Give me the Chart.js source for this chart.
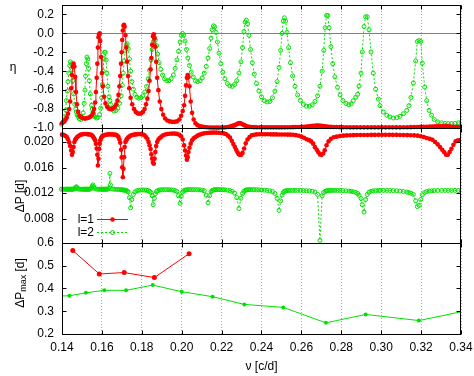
<!DOCTYPE html>
<html>
<head>
<meta charset="utf-8">
<script src="https://cdn.jsdelivr.net/npm/chart.js@4.4.0/dist/chart.umd.min.js"></script>
<style>
html, body { margin: 0; padding: 0; background: #fff; }
#wrap { position: relative; width: 474px; height: 376px; overflow: hidden; }
canvas { position: absolute; left: 0; }
</style>
</head>
<body>
<div id="wrap">
<canvas id="cMax" width="474" height="139" style="top:237px"></canvas>
<canvas id="cDp" width="474" height="128" style="top:122px"></canvas>
<canvas id="cEta" width="474" height="134" style="top:0px"></canvas>
</div>
<script>
// l=1 modes: frequency, eta, period spacing
const nu1 = [
.1400,.1406,.1412,.1418,.1424,.1430,.1436,.1441,.1446,.1450,
.1454,.1458,.1462,.1466,.1470,.1475,.1481,.1488,.1495,.1503,
.1511,.1519,.1527,.1535,.1543,.1550,.1556,.1561,.1566,.1570,
.1574,.1577,.1580,.1583,.1586,.1589,.1592,.1596,.1600,.1605,
.1611,.1618,.1626,.1634,.1642,.1650,.1658,.1665,.1672,.1678,
.1683,.1688,.1692,.1696,.1699,.1702,.1705,.1708,.1711,.1714,
.1718,.1722,.1726,.1731,.1737,.1744,.1752,.1761,.1770,.1779,
.1788,.1797,.1806,.1814,.1821,.1828,.1834,.1839,.1844,.1848,
.1852,.1856,.1860,.1864,.1868,.1872,.1877,.1883,.1890,.1898,
.1907,.1917,.1928,.1940,.1952,.1964,.1976,.1988,.1997,.2005,
.2012,.2017,.2022,.2026,.2030,.2034,.2039,.2045,.2052,.2060,
.2069,.2079,.2090,.2102,.2114,.2126,.2138,.2150,.2162,.2174,
.2186,.2198,.2210,.2221,.2232,.2242,.2251,.2259,.2266,.2273,
.2280,.2286,.2292,.2298,.2305,.2313,.2321,.2330,.2340,.2351,
.2363,.2376,.2390,.2404,.2418,.2432,.2446,.2460,.2474,.2488,
.2502,.2516,.2530,.2544,.2558,.2572,.2586,.2600,.2613,.2626,
.2638,.2649,.2659,.2668,.2677,.2685,.2693,.2701,.2709,.2717,
.2726,.2736,.2748,.2762,.2777,.2793,.2810,.2827,.2844,.2861,
.2878,.2896,.2914,.2932,.2950,.2968,.2986,.3004,.3022,.3040,
.3058,.3076,.3094,.3112,.3130,.3148,.3165,.3182,.3198,.3213,
.3228,.3243,.3257,.3270,.3283,.3295,.3306,.3316,.3325,.3334,
.3343,.3352,.3362,.3373,.3385,.3398,.3412];
const eta1 = [
-.95,-.94,-.93,-.91,-.89,-.85,-.80,-.72,-.58,-.44,
-.35,-.32,-.35,-.46,-.62,-.75,-.83,-.87,-.885,-.895,
-.90,-.90,-.895,-.89,-.88,-.865,-.84,-.80,-.73,-.62,
-.47,-.32,-.15,-.04,-.01,0,-.08,-.25,-.42,-.56,
-.67,-.74,-.775,-.795,-.80,-.80,-.79,-.775,-.75,-.71,
-.65,-.56,-.45,-.32,-.20,-.07,.03,.08,.09,.07,
-.02,-.15,-.30,-.45,-.58,-.68,-.75,-.80,-.83,-.845,
-.85,-.845,-.83,-.80,-.75,-.69,-.61,-.50,-.38,-.26,
-.12,-.03,-.01,-.05,-.14,-.30,-.47,-.60,-.72,-.80,
-.86,-.90,-.92,-.93,-.935,-.935,-.93,-.91,-.87,-.82,
-.76,-.66,-.55,-.47,-.44,-.46,-.56,-.72,-.84,-.91,
-.95,-.97,-.98,-.985,-.99,-.992,-.994,-.995,-.996,-.996,
-.996,-.995,-.994,-.992,-.989,-.985,-.980,-.975,-.970,-.963,
-.956,-.950,-.948,-.952,-.960,-.970,-.978,-.984,-.988,-.990,
-.991,-.992,-.992,-.993,-.993,-.993,-.993,-.993,-.993,-.993,
-.993,-.993,-.992,-.992,-.991,-.990,-.989,-.988,-.986,-.984,
-.982,-.980,-.978,-.976,-.975,-.975,-.976,-.978,-.980,-.982,
-.984,-.986,-.988,-.989,-.990,-.991,-.992,-.992,-.993,-.993,
-.993,-.993,-.993,-.993,-.993,-.993,-.993,-.993,-.993,-.993,
-.993,-.993,-.993,-.992,-.992,-.991,-.990,-.989,-.988,-.987,
-.986,-.985,-.984,-.983,-.982,-.981,-.981,-.981,-.982,-.983,
-.984,-.986,-.987,-.988,-.989,-.990,-.991];
const dp1 = [
.02116,.02114,.02106,.02095,.02079,.02042,.01995,.01937,.01869,.01801,
.01843,.01921,.02000,.02035,.02053,.02075,.02090,.02105,.02116,.02122,
.02126,.02126,.02124,.02120,.02116,.02105,.02085,.02060,.02027,.01975,
.01900,.01800,.01633,.01738,.01896,.01975,.02027,.02063,.02085,.02100,
.02106,.02112,.02118,.02121,.02121,.02120,.02118,.02116,.02110,.02098,
.02079,.02040,.01990,.01880,.01760,.01606,.01449,.01581,.01764,.01921,
.02000,.02027,.02050,.02070,.02085,.02100,.02110,.02116,.02120,.02124,
.02126,.02124,.02118,.02106,.02080,.02050,.02000,.01950,.01890,.01810,
.01740,.01680,.01660,.01738,.01843,.01937,.02000,.02040,.02063,.02085,
.02106,.02118,.02126,.02130,.02132,.02132,.02128,.02115,.02090,.02040,
.01948,.01869,.01790,.01723,.01764,.01843,.01911,.01975,.02027,.02060,
.02080,.02100,.02116,.02128,.02137,.02142,.02145,.02147,.02148,.02148,
.02146,.02142,.02136,.02125,.02100,.02070,.02020,.01970,.01925,.01880,
.01840,.01810,.01800,.01800,.01830,.01900,.01980,.02040,.02080,.02105,
.02115,.02120,.02122,.02122,.02122,.02122,.02121,.02120,.02120,.02119,
.02118,.02118,.02117,.02116,.02114,.02108,.02098,.02085,.02068,.02045,
.02030,.02010,.01975,.01920,.01880,.01840,.01805,.01800,.01820,.01870,
.01950,.02010,.02050,.02075,.02085,.02095,.02100,.02104,.02106,.02108,
.02110,.02110,.02111,.02111,.02112,.02112,.02113,.02113,.02113,.02113,
.02112,.02112,.02111,.02110,.02109,.02107,.02105,.02100,.02092,.02080,
.02063,.02050,.02035,.02000,.01964,.01921,.01880,.01840,.01801,.01801,
.01843,.01896,.01959,.02011,.02027,.02030,.02035];

// l=2 modes
const nu2 = [
.1397,.1405,.1413,.1419,.1422,.1427,.1430,.1434,.1439,.1442,
.1447,.1450,.1454,.1459,.1464,.1469,.1472,.1476,.1480,.1487,
.1495,.1501,.1506,.1511,.1515,.1518,.1522,.1525,.1529,.1533,
.1537,.1542,.1548,.1552,.1555,.1559,.1563,.1572,.1580,.1588,
.1594,.1599,.1603,.1606,.1610,.1613,.1617,.1621,.1625,.1630,
.1636,.1640,.1643,.1651,.1660,.1670,.1680,.1689,.1696,.1702,
.1707,.1712,.1717,.1722,.1727,.1732,.1738,.1744,.1750,.1758,
.1766,.1775,.1785,.1795,.1805,.1815,.1824,.1832,.1839,.1846,
.1852,.1857,.1863,.1868,.1874,.1880,.1887,.1895,.1904,.1914,
.1925,.1936,.1947,.1958,.1967,.1976,.1984,.1992,.1998,.2004,
.2010,.2017,.2024,.2031,.2039,.2048,.2058,.2069,.2080,.2092,
.2103,.2113,.2123,.2132,.2140,.2147,.2153,.2159,.2165,.2172,
.2179,.2187,.2196,.2206,.2217,.2229,.2241,.2253,.2265,.2276,
.2287,.2297,.2305,.2312,.2318,.2324,.2330,.2337,.2345,.2354,
.2364,.2375,.2387,.2400,.2414,.2428,.2442,.2455,.2467,.2478,
.2488,.2496,.2503,.2509,.2515,.2521,.2528,.2536,.2545,.2556,
.2568,.2581,.2595,.2610,.2625,.2640,.2654,.2668,.2681,.2693,
.2704,.2712,.2719,.2726,.2732,.2739,.2748,.2757,.2768,.2781,
.2794,.2808,.2823,.2838,.2850,.2860,.2872,.2882,.2889,.2899,
.2905,.2914,.2922,.2930,.2939,.2949,.2960,.2972,.2986,.2994,
.3011,.3028,.3044,.3061,.3078,.3094,.3111,.3128,.3139,.3149,
.3161,.3173,.3181,.3190,.3198,.3206,.3218,.3228,.3240,.3253,
.3266,.3283,.3303,.3320,.3336,.3353,.3370,.3387,.3403];
const eta2 = [
-.96,-.935,-.88,-.81,-.71,-.61,-.51,-.42,-.34,-.30,
-.32,-.39,-.50,-.64,-.75,-.80,-.83,-.86,-.88,-.905,
-.91,-.89,-.84,-.74,-.60,-.45,-.32,-.25,-.27,-.37,
-.50,-.64,-.76,-.80,-.84,-.86,-.88,-.895,-.89,-.86,
-.79,-.68,-.54,-.40,-.27,-.20,-.20,-.28,-.42,-.56,
-.67,-.71,-.75,-.80,-.82,-.815,-.79,-.74,-.66,-.55,
-.42,-.29,-.18,-.12,-.11,-.16,-.27,-.40,-.51,-.59,
-.645,-.675,-.685,-.68,-.66,-.62,-.56,-.48,-.39,-.28,
-.17,-.09,-.06,-.07,-.13,-.22,-.31,-.38,-.44,-.48,
-.50,-.50,-.48,-.44,-.37,-.28,-.19,-.09,-.02,0,
-.02,-.08,-.17,-.26,-.34,-.41,-.46,-.50,-.51,-.50,
-.47,-.42,-.35,-.26,-.16,-.05,.04,.08,.07,.01,
-.09,-.21,-.32,-.41,-.48,-.53,-.555,-.56,-.54,-.50,
-.42,-.30,-.15,.02,.12,.14,.10,-.02,-.17,-.31,
-.43,-.53,-.61,-.67,-.71,-.725,-.72,-.68,-.61,-.51,
-.36,-.18,0,.13,.165,.13,.01,-.15,-.31,-.45,
-.56,-.65,-.71,-.75,-.77,-.77,-.755,-.72,-.66,-.56,
-.40,-.18,.06,.19,.19,.06,-.14,-.32,-.46,-.57,
-.65,-.71,-.74,-.755,-.745,-.711,-.677,-.643,-.557,-.42,
-.196,.072,.175,.175,.038,-.196,-.42,-.59,-.694,-.763,
-.832,-.866,-.883,-.894,-.89,-.876,-.849,-.814,-.763,-.677,
-.523,-.292,-.086,-.076,-.086,-.316,-.567,-.711,-.814,-.866,
-.91,-.935,-.945,-.952,-.952,-.952,-.952,-.945,-.94];
const dp2 = [
.01262,.01262,.01262,.01262,.01262,.01262,.01262,.01262,.01262,.01262,
.01262,.01262,.01262,.01264,.01270,.01290,.01300,.01285,.01268,.01262,
.01262,.01262,.01262,.01262,.01262,.01262,.01262,.01262,.01262,.01262,
.01262,.01265,.01280,.01310,.01330,.01300,.01275,.01264,.01262,.01262,
.01262,.01262,.01262,.01262,.01262,.01262,.01262,.01262,.01262,.01264,
.01275,.01510,.01330,.01268,.01262,.01260,.01258,.01256,.01254,.01252,
.01250,.01248,.01245,.01240,.01232,.01220,.01130,.00970,.01100,.01180,
.01220,.01238,.01246,.01250,.01250,.01249,.01246,.01240,.01230,.01210,
.01160,.01020,.01120,.01190,.01225,.01240,.01248,.01252,.01254,.01255,
.01255,.01254,.01252,.01248,.01240,.01225,.01160,.01040,.01150,.01215,
.01238,.01248,.01252,.01254,.01255,.01255,.01255,.01255,.01254,.01252,
.01247,.01238,.01170,.01050,.01160,.01225,.01242,.01250,.01254,.01255,
.01255,.01255,.01255,.01254,.01252,.01248,.01240,.01228,.01200,.01130,
.00960,.01120,.01195,.01228,.01242,.01250,.01253,.01255,.01255,.01255,
.01255,.01254,.01252,.01250,.01247,.01243,.01236,.01225,.01195,.01120,
.00930,.01080,.01170,.01210,.01228,.01236,.01240,.01242,.01243,.01243,
.01243,.01243,.01242,.01241,.01239,.01236,.01230,.01218,.01180,.00460,
.01160,.01212,.01228,.01236,.01240,.01242,.01243,.01243,.01243,.01243,
.01242,.01240,.01237,.01233,.01228,.01222,.01212,.01195,.01165,.01115,
.01020,.00905,.01100,.01180,.01215,.01230,.01237,.01240,.01242,.01243,
.01243,.01243,.01242,.01240,.01237,.01233,.01227,.01218,.01210,.01198,
.01180,.01080,.00990,.01010,.01100,.01175,.01210,.01226,.01234,.01238,
.01240,.01242,.01242,.01243,.01243,.01243,.01243,.01242,.01242];

// maximum period deviation per trapped mode
const nuMax1 = [0.1454, 0.1587, 0.1712, 0.1863, 0.2037];
const dpMax1 = [0.567, 0.464, 0.470, 0.448, 0.553];
const nuMax2 = [0.1360, 0.1437, 0.1520, 0.1612, 0.1721, 0.1855, 0.2000, 0.2155, 0.2314, 0.2509, 0.2723, 0.2922, 0.3189, 0.3500];
const dpMax2 = [0.366, 0.368, 0.381, 0.392, 0.392, 0.415, 0.386, 0.364, 0.330, 0.317, 0.249, 0.286, 0.259, 0.316];

const nuTicks = [0.14, 0.16, 0.18, 0.20, 0.22, 0.24, 0.26, 0.28, 0.30, 0.32, 0.34];
const etaTicks = [-1.0, -0.8, -0.6, -0.4, -0.2, 0, 0.2];
const dpTicks = [0.008, 0.012, 0.016, 0.020];
const maxTicks = [0.2, 0.3, 0.4, 0.5, 0.6];

const RED = '#ff0000';
const GREEN = '#00e000';
const FONT = '"Liberation Sans", Arial, sans-serif';

Chart.defaults.font.family = FONT;
Chart.defaults.font.size = 12;
Chart.defaults.color = '#000';

function zip(xs, ys) {
    return xs.map((x, i) => ({ x: x, y: ys[i] }));
}

// no extra room for end labels, the panels must butt together
function noPad(s) {
    s.paddingTop = 0;
    s.paddingBottom = 0;
    s.paddingLeft = 0;
    s.paddingRight = 0;
}

// frame, inward tics, y title and legend drawn on top of each panel
const frame = {
    id: 'frame',
    afterDraw(chart, args, o) {
        const { ctx, chartArea: a, scales: { x, y } } = chart;
        const l = a.left + 0.5, r = a.right - 0.5, t = a.top + 0.5, b = a.bottom + 0.5;
        ctx.save();
        ctx.strokeStyle = '#000';
        ctx.lineWidth = 1;
        ctx.setLineDash([]);
        ctx.beginPath();
        x.ticks.forEach(tk => {
            const px = Math.round(x.getPixelForValue(tk.value)) + 0.5;
            ctx.moveTo(px, b); ctx.lineTo(px, b - 4);
            ctx.moveTo(px, t); ctx.lineTo(px, t + 4);
        });
        y.ticks.forEach(tk => {
            const py = Math.round(y.getPixelForValue(tk.value)) + 0.5;
            ctx.moveTo(l, py); ctx.lineTo(l + 4, py);
            ctx.moveTo(r, py); ctx.lineTo(r - 4, py);
        });
        ctx.stroke();
        ctx.strokeRect(l, t, r - l, b - t);

        // y title, optional subscript
        if (o.title) {
            const tt = o.title;
            const parts = [[tt.text, '12px ' + FONT, 0]];
            if (tt.sub) parts.push([tt.sub, '9px ' + FONT, 3]);
            if (tt.after) parts.push([tt.after, '12px ' + FONT, 0]);
            let total = 0;
            parts.forEach(p => { ctx.font = p[1]; total += ctx.measureText(p[0]).width; });
            ctx.translate(tt.x, tt.y);
            if (tt.rotate) ctx.rotate(-Math.PI / 2);
            ctx.fillStyle = '#000';
            ctx.textAlign = 'left';
            ctx.textBaseline = 'middle';
            let cx = -total / 2;
            parts.forEach(p => {
                ctx.font = p[1];
                ctx.fillText(p[0], cx, p[2]);
                cx += ctx.measureText(p[0]).width;
            });
            ctx.setTransform(1, 0, 0, 1, 0, 0);
        }

        if (o.legend) {
            const lg = o.legend;
            chart.data.datasets.forEach((ds, i) => {
                const yy = lg.y + i * lg.dy;
                ctx.fillStyle = '#000';
                ctx.font = '12px ' + FONT;
                ctx.textAlign = 'right';
                ctx.textBaseline = 'middle';
                ctx.fillText(ds.label, lg.x, yy);
                ctx.strokeStyle = ds.borderColor;
                ctx.lineWidth = 1;
                ctx.setLineDash(ds.borderDash || []);
                ctx.beginPath();
                ctx.moveTo(lg.x + 3, yy); ctx.lineTo(lg.x + 34, yy);
                ctx.stroke();
                ctx.setLineDash([]);
                ctx.beginPath();
                ctx.arc(lg.x + 18.5, yy, ds.pointRadius, 0, Math.PI * 2);
                if (ds.pointBorderWidth > 0) {
                    ctx.strokeStyle = ds.pointBorderColor;
                    ctx.stroke();
                } else {
                    ctx.fillStyle = ds.pointBackgroundColor;
                    ctx.fill();
                }
            });
        }
        ctx.restore();
    }
};

function xAxis(showLabels) {
    return {
        type: 'linear', min: 0.14, max: 0.34,
        afterBuildTicks: s => { s.ticks = nuTicks.map(v => ({ value: v })); },
        afterFit: s => { s.height = showLabels ? 42 : 0; noPad(s); },
        grid: { color: '#aaaaaa', lineWidth: 1, drawTicks: false },
        border: { display: false, dash: [1, 2] },
        ticks: { display: showLabels, padding: 6, maxRotation: 0, callback: v => v.toFixed(2) },
        title: { display: showLabels, text: 'ν [c/d]', font: { size: 12 }, padding: { top: 0, bottom: 2 } }
    };
}

function yAxis(min, max, ticks, digits, zeroLine) {
    return {
        type: 'linear', min: min, max: max,
        afterBuildTicks: s => { s.ticks = ticks.map(v => ({ value: v })); },
        afterFit: s => { s.width = 62; noPad(s); },
        grid: {
            drawTicks: false,
            color: c => (zeroLine && c.tick && c.tick.value === 0) ? '#808080' : 'rgba(0,0,0,0)'
        },
        border: { display: false },
        ticks: { padding: 8, callback: v => v.toFixed(digits) }
    };
}

function options(padding, xShow, y, frameOpts) {
    return {
        responsive: false,
        animation: false,
        devicePixelRatio: 1,
        layout: { padding: padding },
        plugins: { legend: { display: false }, tooltip: { enabled: false }, frame: frameOpts },
        scales: { x: xAxis(xShow), y: y }
    };
}

function redSet(xs, ys, clip) {
    return {
        label: 'l=1', data: zip(xs, ys),
        borderColor: RED, borderWidth: 1,
        pointRadius: 2.3, pointBorderWidth: 0,
        pointBackgroundColor: RED, pointBorderColor: RED,
        clip: clip
    };
}

function greenSet(xs, ys, clip) {
    return {
        label: 'l=2', data: zip(xs, ys),
        borderColor: GREEN, borderWidth: 1, borderDash: [2, 2],
        pointRadius: 2, pointBorderWidth: 1,
        pointBackgroundColor: 'rgba(0,0,0,0)', pointBorderColor: GREEN,
        clip: clip
    };
}

const clipOpen = { left: 3, right: 0, top: 4, bottom: 5 };

new Chart(document.getElementById('cEta'), {
    type: 'line',
    data: { datasets: [redSet(nu1, eta1, clipOpen), greenSet(nu2, eta2, clipOpen)] },
    options: options({ top: 2, bottom: 6, left: 0, right: 13 }, false,
        yAxis(-1.0, 0.3, etaTicks, 1, true),
        { title: { text: 'η', x: 13, y: 68, rotate: false } }),
    plugins: [frame]
});

new Chart(document.getElementById('cDp'), {
    type: 'line',
    data: { datasets: [redSet(nu1, dp1, clipOpen), greenSet(nu2, dp2, clipOpen)] },
    options: options({ top: 6, bottom: 7, left: 0, right: 13 }, false,
        yAxis(0.0042, 0.0222, dpTicks, 3, false),
        { title: { text: 'ΔP [d]', x: 20.5, y: 74, rotate: true },
          legend: { x: 94, y: 97.5, dy: 13 } }),
    plugins: [frame]
});

new Chart(document.getElementById('cMax'), {
    type: 'line',
    data: {
        datasets: [
            { label: 'l=1', data: zip(nuMax1, dpMax1), borderColor: RED, borderWidth: 1,
              pointRadius: 2.5, pointBorderWidth: 0, pointBackgroundColor: RED,
              clip: { left: 0, right: 0, top: 4, bottom: 4 } },
            { label: 'l=2', data: zip(nuMax2, dpMax2), borderColor: GREEN, borderWidth: 1,
              pointRadius: 2, pointBorderWidth: 0, pointBackgroundColor: GREEN,
              clip: { left: 0, right: 0, top: 4, bottom: 4 } }
        ]
    },
    options: options({ top: 6, bottom: 0, left: 0, right: 13 }, true,
        yAxis(0.2, 0.6, maxTicks, 1, false),
        { title: { text: 'ΔP', sub: 'max', after: ' [d]', x: 21, y: 46, rotate: true } }),
    plugins: [frame]
});
</script>
</body>
</html>
